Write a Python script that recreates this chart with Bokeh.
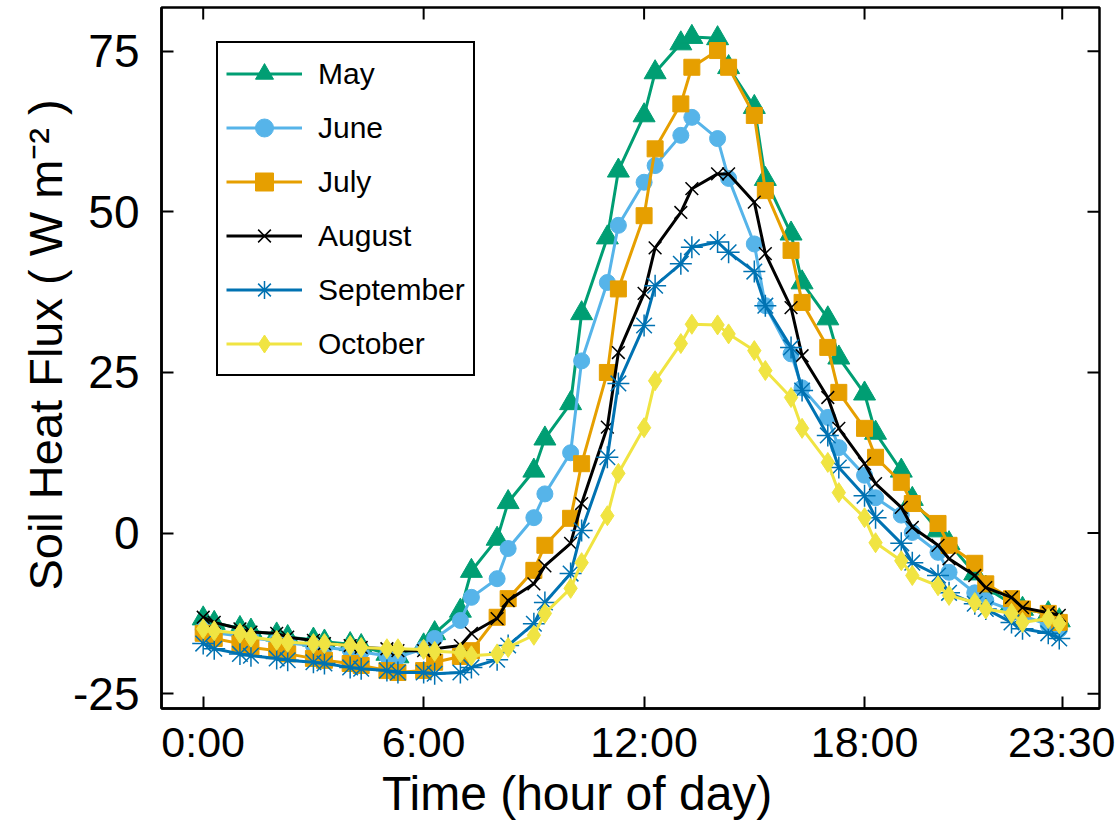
import math
from bokeh.plotting import figure
from bokeh.models import Range1d, FixedTicker, Legend, LegendItem
from bokeh.embed import file_html
from bokeh.resources import INLINE

# Time of day as plotted (half-hour values drawn at hour + 0.3)
time_h = [0.0, 0.3, 1.0, 1.3, 2.0, 2.3, 3.0, 3.3, 4.0, 4.3, 5.0, 5.3,
          6.0, 6.3, 7.0, 7.3, 8.0, 8.3, 9.0, 9.3, 10.0, 10.3, 11.0, 11.3,
          12.0, 12.3, 13.0, 13.3, 14.0, 14.3, 15.0, 15.3, 16.0, 16.3, 17.0, 17.3,
          18.0, 18.3, 19.0, 19.3, 20.0, 20.3, 21.0, 21.3, 22.0, 22.3, 23.0, 23.3]

may = [-13.3, -14.0, -14.8, -15.2, -15.8, -16.2, -16.6, -16.9, -17.3, -17.6, -18.8, -19.2,
       -17.5, -15.6, -12.1, -5.9, -0.9, 4.8, 9.7, 14.7, 20.2, 34.2, 46.0, 56.4,
       65.0, 71.7, 76.2, 77.2, 77.0, 72.5, 66.3, 55.1, 46.6, 39.0, 33.4, 27.3,
       21.7, 15.6, 9.7, 5.3, 0.4, -1.6, -6.3, -8.5, -11.0, -11.8, -12.5, -13.6]

june = [-15.0, -15.5, -16.0, -16.3, -16.8, -17.1, -17.5, -17.8, -18.2, -18.5, -19.1, -19.3,
        -18.0, -16.4, -13.6, -10.0, -7.1, -2.4, 2.4, 6.1, 12.5, 26.8, 39.0, 47.9,
        54.6, 57.2, 61.9, 64.7, 61.4, 55.2, 45.0, 35.4, 27.9, 22.6, 18.0, 13.3,
        9.0, 5.5, 2.8, 0.1, -3.0, -6.1, -9.3, -10.5, -12.0, -12.8, -14.3, -15.0]

july = [-15.6, -16.4, -17.2, -17.8, -18.3, -18.8, -19.5, -19.8, -20.3, -20.6, -21.4, -21.7,
        -21.4, -20.1, -19.2, -18.3, -13.1, -10.2, -5.8, -1.9, 2.3, 10.8, 25.0, 38.0,
        49.4, 59.8, 66.8, 72.5, 75.1, 72.5, 65.0, 53.3, 44.0, 35.9, 28.9, 21.9,
        16.3, 11.8, 7.9, 4.6, 1.5, -1.9, -4.7, -7.9, -10.2, -11.8, -12.5, -13.9]

august = [-13.1, -13.9, -14.9, -15.4, -15.6, -16.2, -16.7, -17.2, -17.5, -17.8, -18.0, -18.3,
          -18.3, -18.0, -17.5, -15.6, -13.3, -10.5, -7.9, -5.1, -1.6, 4.6, 16.5, 28.1,
          37.3, 44.4, 49.9, 53.6, 55.9, 55.9, 51.5, 43.5, 35.1, 27.6, 21.1, 16.3,
          10.8, 7.7, 4.0, 0.9, -1.9, -4.0, -6.6, -8.5, -10.0, -11.6, -12.4, -12.8]

september = [-17.2, -18.0, -18.8, -19.1, -19.5, -19.8, -20.1, -20.3, -20.9, -21.1, -21.4, -21.7,
             -21.7, -21.9, -21.7, -20.9, -19.7, -17.5, -14.1, -10.8, -6.3, 0.4, 11.8, 23.3,
             32.3, 38.5, 41.9, 44.5, 45.3, 43.7, 40.7, 35.4, 28.9, 22.2, 15.2, 10.2,
             5.8, 2.4, -1.6, -4.6, -6.6, -9.3, -11.0, -11.8, -13.9, -14.9, -15.6, -16.4]

october = [-14.9, -15.2, -15.6, -16.2, -16.7, -17.0, -17.2, -17.2, -17.5, -17.8, -18.0, -18.0,
           -18.1, -18.4, -18.6, -19.1, -18.8, -17.8, -15.9, -12.5, -8.6, -4.6, 2.7, 9.3,
           16.4, 23.7, 29.5, 32.5, 32.4, 31.0, 28.4, 25.3, 21.1, 16.3, 11.0, 6.3,
           2.4, -1.5, -4.3, -6.6, -8.2, -9.7, -10.8, -11.8, -12.5, -13.9, -13.3, -14.1]

month_names = ["May", "June", "July", "August", "September", "October"]
x_ticks = [0, 6, 12, 18, 23.38]
x_tick_labels = ["0:00", "6:00", "12:00", "18:00", "23:30"]
y_ticks = [-25, 0, 25, 50, 75]
y_tick_labels = ["-25", "0", "25", "50", "75"]
x_title = "Time (hour of day)"
y_title = "Soil Heat Flux ( W m\u207b\u00b2 )"

series = [may, june, july, august, september, october]
colors = ["#009E73", "#56B4E9", "#E69F00", "#000000", "#0072B2", "#F0E442"]
markers = ["triangle", "circle", "square", "x", "asterisk", "diamond"]
msizes = [22, 16, 16, 18, 22, 20]

X0, X1 = -1.135, 24.395
Y0, Y1 = -27.3, 81.8
NBSP = "\u00a0"

p = figure(width=1115, height=827, output_backend="svg", toolbar_location=None,
           x_range=Range1d(X0, X1), y_range=Range1d(Y0, Y1),
           min_border_left=161, min_border_right=16, min_border_top=7, min_border_bottom=119)
p.background_fill_color = "white"
p.border_fill_color = "white"
p.grid.visible = False
p.outline_line_color = "black"
p.outline_line_width = 2.5

FONT = "Liberation Sans"

xa = p.xaxis[0]
xa.ticker = FixedTicker(ticks=x_ticks)
xa.major_label_overrides = {t: l for t, l in zip(x_ticks, x_tick_labels)}
xa.major_label_text_font_size = "43px"
xa.major_label_standoff = 9
# trailing no-break spaces shift the centred title left, as in the original
xa.axis_label = x_title + NBSP * 8
xa.axis_label_text_font_size = "48px"
xa.axis_label_standoff = -2

ya = p.yaxis[0]
ya.ticker = FixedTicker(ticks=y_ticks)
ya.major_label_overrides = {t: l for t, l in zip(y_ticks, y_tick_labels)}
ya.major_label_text_font_size = "46px"
ya.major_label_standoff = 22
ya.axis_label = NBSP * 2 + y_title
ya.axis_label_text_font_size = "47px"
ya.axis_label_standoff = -2

for ax in (xa, ya):
    ax.major_label_text_font = FONT
    ax.axis_label_text_font = FONT
    ax.axis_label_text_font_style = "normal"
    ax.axis_label_text_color = "black"
    ax.axis_line_color = "black"
    ax.axis_line_width = 2.5
    ax.major_tick_in = 12
    ax.major_tick_out = 0
    ax.major_tick_line_width = 2
    ax.minor_tick_line_color = None
    ax.major_label_text_color = "black"

# mirrored inward ticks on the top and right frame edges (half of each dash is clipped)
p.scatter(x_ticks, [Y1] * len(x_ticks), marker="dash", angle=math.pi / 2, size=24,
          line_color="black", line_width=2)
p.scatter([X1] * len(y_ticks), y_ticks, marker="dash", size=24,
          line_color="black", line_width=2)

items = []
for name, vals, col, mk, ms in zip(month_names, series, colors, markers, msizes):
    ln = p.line(time_h, vals, line_color=col, line_width=3)
    if mk in ("x", "asterisk"):
        sc = p.scatter(time_h, vals, marker=mk, size=ms, line_color=col, line_width=1.5)
    else:
        sc = p.scatter(time_h, vals, marker=mk, size=ms, fill_color=col, line_color=col,
                       line_width=1)
    items.append(LegendItem(label=name, renderers=[ln, sc]))

legend = Legend(items=items, location=(55, 332), padding=8, spacing=9,
                glyph_width=76, glyph_height=45, label_height=26, label_standoff=16,
                label_text_font=FONT, label_text_font_size="30px", label_text_color="black",
                border_line_color="black", border_line_width=2.5, border_line_alpha=1.0,
                background_fill_color="white", background_fill_alpha=1.0)
p.add_layout(legend, "center")

open("out.html", "w").write(file_html(p, INLINE))
